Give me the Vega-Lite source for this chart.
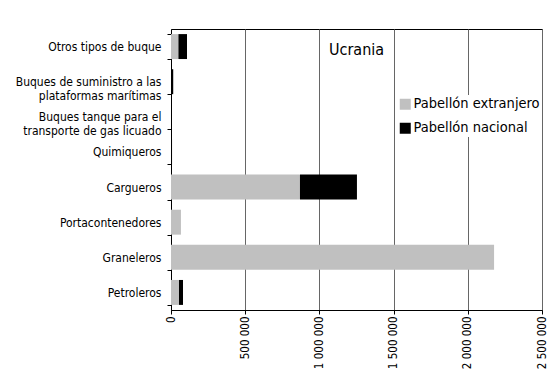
{
  "$schema": "https://vega.github.io/schema/vega-lite/v6.json",
  "width": 371,
  "height": 281,
  "autosize": {"type": "none"},
  "padding": {"left": 171, "top": 29, "right": 7, "bottom": 68},
  "background": "white",
  "title": {
    "text": "Ucrania",
    "orient": "top",
    "anchor": "middle",
    "baseline": "alphabetic",
    "offset": -48,
    "font": "DejaVu Sans Condensed, sans-serif",
    "fontSize": 16,
    "fontWeight": "normal",
    "color": "black"
  },
  "data": {
    "values": [
      {"tipo": "Otros tipos de buque", "pabellon": "Pabellón extranjero", "tpm": 50000},
      {"tipo": "Otros tipos de buque", "pabellon": "Pabellón nacional", "tpm": 58000},
      {"tipo": "Buques de suministro a las|plataformas marítimas", "pabellon": "Pabellón extranjero", "tpm": 0},
      {"tipo": "Buques de suministro a las|plataformas marítimas", "pabellon": "Pabellón nacional", "tpm": 15000},
      {"tipo": "Buques tanque para el|transporte de gas licuado", "pabellon": "Pabellón extranjero", "tpm": 0},
      {"tipo": "Buques tanque para el|transporte de gas licuado", "pabellon": "Pabellón nacional", "tpm": 0},
      {"tipo": "Quimiqueros", "pabellon": "Pabellón extranjero", "tpm": 0},
      {"tipo": "Quimiqueros", "pabellon": "Pabellón nacional", "tpm": 7000},
      {"tipo": "Cargueros", "pabellon": "Pabellón extranjero", "tpm": 869000},
      {"tipo": "Cargueros", "pabellon": "Pabellón nacional", "tpm": 384000},
      {"tipo": "Portacontenedores", "pabellon": "Pabellón extranjero", "tpm": 67000},
      {"tipo": "Portacontenedores", "pabellon": "Pabellón nacional", "tpm": 0},
      {"tipo": "Graneleros", "pabellon": "Pabellón extranjero", "tpm": 2177000},
      {"tipo": "Graneleros", "pabellon": "Pabellón nacional", "tpm": 0},
      {"tipo": "Petroleros", "pabellon": "Pabellón extranjero", "tpm": 54000},
      {"tipo": "Petroleros", "pabellon": "Pabellón nacional", "tpm": 27000}
    ]
  },
  "mark": {"type": "bar"},
  "encoding": {
    "y": {
      "field": "tipo",
      "type": "nominal",
      "sort": [
        "Otros tipos de buque",
        "Buques de suministro a las|plataformas marítimas",
        "Buques tanque para el|transporte de gas licuado",
        "Quimiqueros",
        "Cargueros",
        "Portacontenedores",
        "Graneleros",
        "Petroleros"
      ],
      "scale": {"paddingInner": 0.29, "paddingOuter": 0.145},
      "axis": {
        "title": null,
        "labelExpr": "split(datum.label, '|')",
        "labelFont": "DejaVu Sans Condensed, sans-serif",
        "labelFontSize": 12,
        "labelLineHeight": 13.5,
        "labelColor": "black",
        "labelLimit": 0,
        "labelPadding": 6,
        "domainColor": "black",
        "tickColor": "black",
        "tickSize": 4,
        "tickBand": "extent",
        "grid": false
      }
    },
    "x": {
      "field": "tpm",
      "type": "quantitative",
      "stack": "zero",
      "scale": {"domain": [0, 2500000], "nice": false},
      "axis": {
        "title": null,
        "values": [0, 500000, 1000000, 1500000, 2000000, 2500000],
        "labelExpr": "replace(format(datum.value, ','), regexp(',', 'g'), ' ')",
        "labelAngle": -90,
        "labelFont": "DejaVu Sans Condensed, sans-serif",
        "labelFontSize": 11.5,
        "labelColor": "black",
        "labelPadding": 2,
        "domainColor": "black",
        "tickColor": "black",
        "tickSize": 4,
        "grid": true,
        "gridColor": "#666666",
        "gridOpacity": 1
      }
    },
    "color": {
      "field": "pabellon",
      "type": "nominal",
      "scale": {"domain": ["Pabellón extranjero", "Pabellón nacional"], "range": ["#c0c0c0", "#000000"]},
      "legend": {
        "title": null,
        "orient": "none",
        "legendX": 225,
        "legendY": 66,
        "padding": 2,
        "fillColor": "white",
        "symbolType": "square",
        "symbolSize": 121,
        "symbolStrokeWidth": 0,
        "symbolOpacity": 1,
        "labelFont": "DejaVu Sans Condensed, sans-serif",
        "labelFontSize": 14.5,
        "labelColor": "black",
        "labelOffset": 1,
        "labelLimit": 0,
        "rowPadding": 9
      }
    },
    "order": {"field": "pabellon", "sort": "ascending"}
  },
  "config": {
    "view": {"stroke": "black", "strokeWidth": 1}
  }
}
